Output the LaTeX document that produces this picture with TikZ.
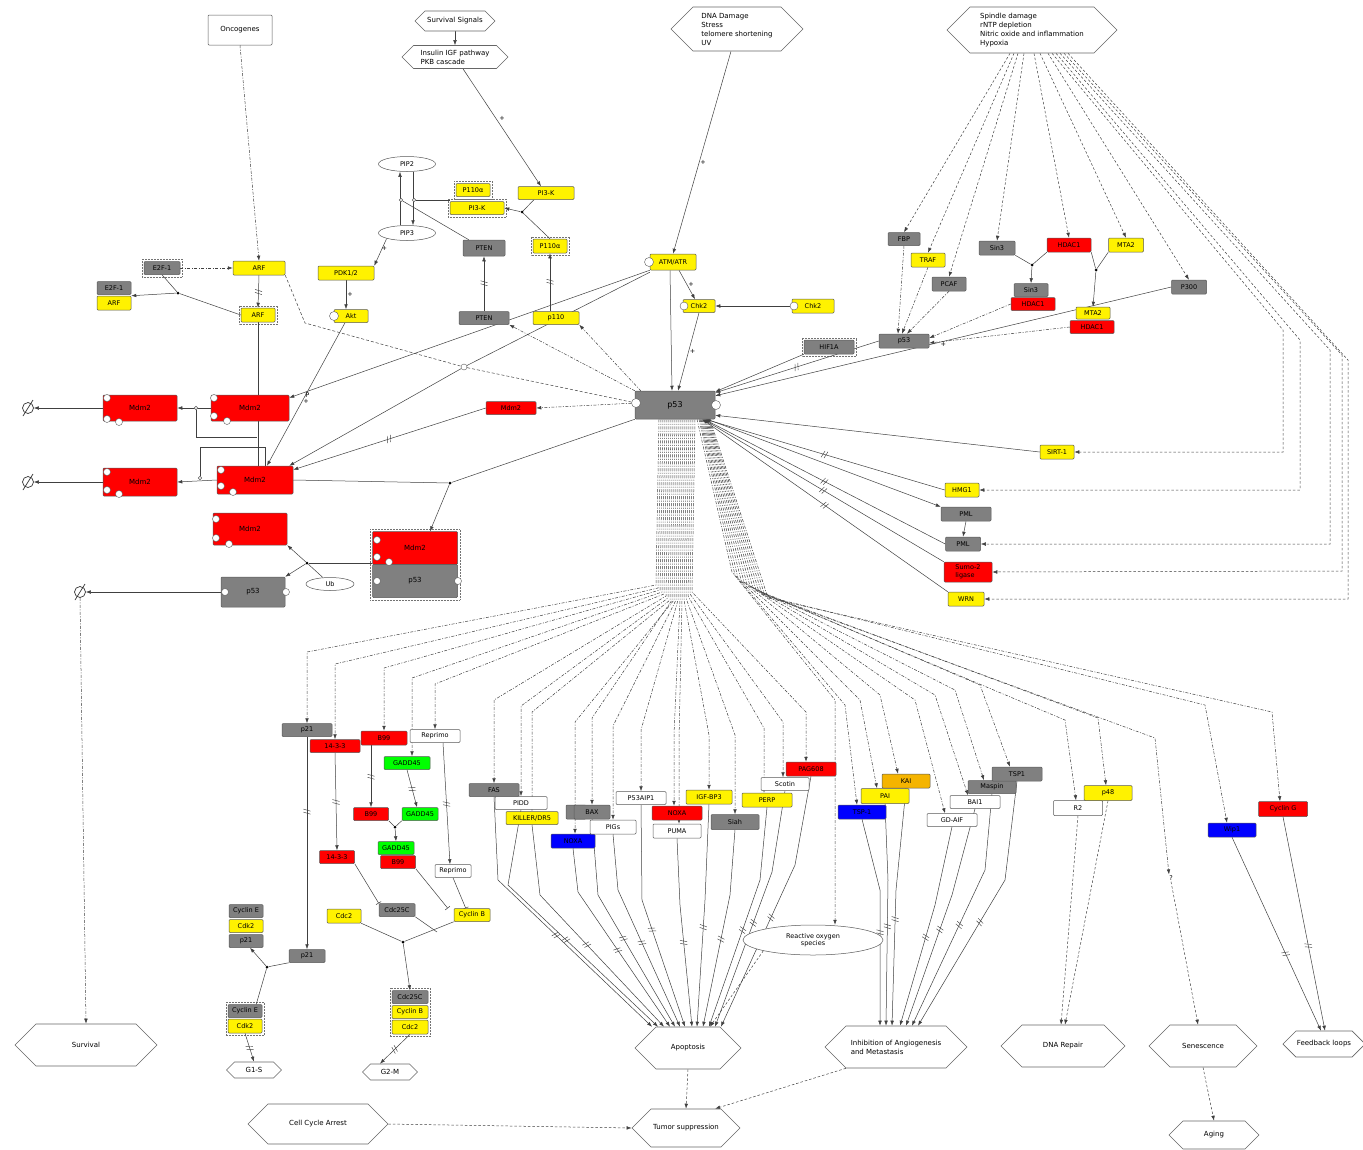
\documentclass[tikz,border=0pt]{standalone}
\usepackage{fontspec}
\setmainfont{DejaVu Sans}
\usetikzlibrary{arrows.meta,shapes.geometric,shapes.symbols,decorations.markings}
\newcommand\lbl{\fontsize{6.5}{7.5}\selectfont}
\newcommand\hlbl{\fontsize{7}{9}\selectfont}
\pgfdeclarelayer{edges}
\pgfsetlayers{edges,main}
\definecolor{gy}{HTML}{808080}
\definecolor{orng}{HTML}{F5B400}
\begin{document}
\begin{tikzpicture}[x=1pt,y=-1pt,
  >={Latex[length=5pt,width=3.6pt]},
  box/.style={draw=black!65,rounded corners=1pt,inner sep=0pt,font=\lbl,minimum height=14pt,line width=0.5pt,minimum width=#1},
  box/.default=36pt,
  nY/.style={box=#1,fill=yellow}, nY/.default=36pt,
  nG/.style={box=#1,fill=gy}, nG/.default=36pt,
  nR/.style={box=#1,fill=red}, nR/.default=36pt,
  nGr/.style={box=#1,fill=green}, nGr/.default=36pt,
  nB/.style={box=#1,fill=blue}, nB/.default=36pt,
  nW/.style={box=#1,fill=white}, nW/.default=36pt,
  nO/.style={box=#1,fill=orng}, nO/.default=36pt,
  hex/.style={signal,signal to=east and west,draw=black!60,fill=white,font=\hlbl,inner sep=1pt,line width=0.6pt},
  ov/.style={ellipse,draw=black!65,fill=white,inner sep=0pt,font=\lbl,line width=0.5pt},
  sv/.style={circle,draw=black!65,fill=white,inner sep=0pt,minimum size=#1,line width=0.4pt},
  sv/.default=7pt,
  dot/.style={circle,fill=black,inner sep=0pt,minimum size=3pt},
  emp/.style={circle,draw=black!80,line width=0.7pt,minimum size=11pt,inner sep=0pt},
  cx/.style={draw=black!55,densely dotted,line width=0.5pt},
  arr/.style={->,draw=black!75,line width=0.5pt},
  ln/.style={-,draw=black!75,line width=0.5pt},
  dsh/.style={arr,dash pattern=on 3pt off 1.5pt on 1pt off 1.5pt},
  dd/.style={arr,dash pattern=on 2.5pt off 2pt},
  brk/.style={postaction={decorate,decoration={markings,mark=at position #1 with {\draw[solid,-,black!75,line width=0.45pt] (-2pt,-3.5pt)--(0pt,3.5pt) (1pt,-3.5pt)--(3pt,3.5pt);}}}},
  brk/.default=0.5,
  pl/.style={font=\lbl,inner sep=1pt}
]
\useasboundingbox (0,0) rectangle (1363,1149);

% ---------- input signals ----------
\node[nW=64pt,minimum height=30pt,font=\hlbl] (onc) at (240,30) {Oncogenes};
\node[hex,minimum width=80pt,minimum height=20pt] (surv) at (455,21) {Survival Signals};
\node[hex,minimum width=106pt,minimum height=23pt,align=left] (ins) at (455,57) {Insulin IGF pathway\\PKB cascade};
\node[hex,minimum width=132pt,minimum height=44pt,align=left] (dna) at (737,29) {DNA Damage\\Stress\\telomere shortening\\UV};
\node[hex,minimum width=170pt,minimum height=46pt,align=left] (spin) at (1032,30) {Spindle damage\\rNTP depletion\\Nitric oxide and inflammation\\Hypoxia};

% ---------- PI3K / Akt branch ----------
\node[ov,minimum width=57pt,minimum height=15pt] (pip2) at (407,164) {PIP2};
\node[ov,minimum width=57pt,minimum height=15pt] (pip3) at (407,233) {PIP3};
\node[nY=34pt,minimum height=13pt] (p110a) at (473,190) {P110α};
\node[nY=54pt,minimum height=13pt] (pi3ka) at (477,208) {PI3-K};
\node[nY=56pt,minimum height=13pt] (pi3kr) at (546,193) {PI3-K};
\node[nY=34pt] (p110b) at (550,246) {P110α};
\node[nG=42pt,minimum height=16pt] (pten1) at (484,248) {PTEN};
\node[nG=50pt,minimum height=13pt] (pten2) at (484,318) {PTEN};
\node[nY=46pt,minimum height=13pt] (p110) at (556,318) {p110};
\node[nY=56pt] (pdk) at (346,273) {PDK1/2};
\node[nY=34pt,minimum height=13pt] (akt) at (351,316) {Akt};
\node[sv=9pt] (aktc) at (334,316) {};
\node[sv=3.5pt] (c1) at (401,200) {};
\node[sv=3.5pt] (c2) at (414,200) {};
\node[dot] (j2) at (522,212) {};

% ---------- ARF / E2F-1 ----------
\node[nY=52pt] (arf1) at (259,268) {ARF};
\node[nG=36pt,minimum height=13pt] (e2f1) at (162,268) {E2F-1};
\node[nG=34pt,minimum height=13pt] (e2f2) at (114,288) {E2F-1};
\node[nY=34pt] (arf3) at (114,303) {ARF};
\node[nY=34pt] (arf2) at (258,315) {ARF};
\node[dot] (j1) at (178,293) {};

% ---------- ATM / Chk2 ----------
\node[nY=46pt,minimum height=16pt] (atm) at (673,262) {ATM/ATR};
\node[sv=9pt] (atmc) at (649,262) {};
\node[nY=32pt,minimum height=13pt] (chk2a) at (699,306) {Chk2};
\node[sv=8pt] (chk2ac) at (684,306) {};
\node[nY=42pt] (chk2b) at (813,306) {Chk2};
\node[sv=8pt] (chk2bc) at (794,306) {};

% ---------- p53 core ----------
\node[nG=80pt,minimum height=28pt,font=\fontsize{8}{9}\selectfont] (p53) at (675,405) {p53};
\node[sv=9pt] (p53w) at (636,403) {};
\node[sv=9pt] (p53e) at (716,405) {};
\node[nR=50pt,minimum height=13pt] (mdm2s) at (511,408) {Mdm2};
\node[sv=6pt] (c5) at (464,367) {};

% ---------- Mdm2 forms ----------
\node[nR=74pt,minimum height=26pt,font=\fontsize{7}{8}\selectfont] (m1) at (140,408) {Mdm2};
\node[nR=78pt,minimum height=26pt,font=\fontsize{7}{8}\selectfont] (m2) at (250,408) {Mdm2};
\node[nR=74pt,minimum height=28pt,font=\fontsize{7}{8}\selectfont] (m3) at (140,482) {Mdm2};
\node[nR=76pt,minimum height=28pt,font=\fontsize{7}{8}\selectfont] (m4) at (255,480) {Mdm2};
\node[nR=74pt,minimum height=32pt,font=\fontsize{7}{8}\selectfont] (m5) at (250,529) {Mdm2};
\node[nR=85pt,minimum height=33pt,font=\fontsize{7}{8}\selectfont] (m6) at (415,548) {Mdm2};
\node[nG=85pt,minimum height=33pt,font=\fontsize{7}{8}\selectfont] (p53c) at (415,581) {p53};
\node[nG=64pt,minimum height=30pt,font=\fontsize{7}{8}\selectfont] (p53a) at (253,592) {p53};
\node[ov,minimum width=48pt,minimum height=13pt] (ub) at (330,584) {Ub};
\node[emp] (e1) at (28,408) {};
\node[emp] (e2) at (28,482) {};
\node[emp] (e3) at (80,592) {};
\foreach \e in {e1,e2,e3}
  \draw[line width=0.7pt,black!80] ([shift={(-5pt,-8pt)}]\e.center) -- ([shift={(5pt,8pt)}]\e.center);
% state variables on the Mdm2 / p53 glyphs
\foreach \px/\py in {107/398,107/419,119/422,214/398,214/416,227/421,107/472,107/490,119/494,221/470,221/486,233/492,216/519,216/538,229/544,377/540,377/557,389/562,377/581,458/581,225/592,286/592}
  \node[sv] at (\px,\py) {};

% ---------- upstream regulators on the right ----------
\node[nG=50pt,minimum height=14pt] (hif) at (829,347) {HIF1A};
\node[nG=50pt] (p53r) at (904,341) {p53};
\node[nG=32pt,minimum height=13pt] (fbp) at (904,239) {FBP};
\node[nY=34pt] (traf) at (928,260) {TRAF};
\node[nG=34pt] (pcaf) at (949,284) {PCAF};
\node[nG=36pt] (sin3a) at (997,248) {Sin3};
\node[nR=44pt] (hdac1a) at (1069,245) {HDAC1};
\node[nY=35pt] (mta2a) at (1126,245) {MTA2};
\node[nG=34pt,minimum height=13pt] (sin3b) at (1031,290) {Sin3};
\node[nR=44pt,minimum height=13pt] (hdac1b) at (1033,304) {HDAC1};
\node[nY=34pt,minimum height=12pt] (mta2b) at (1093,313) {MTA2};
\node[nR=44pt,minimum height=13pt] (hdac1c) at (1092,327) {HDAC1};
\node[nG=35pt] (p300) at (1189,287) {P300};
\node[dot] (j10) at (1032,265) {};
\node[dot] (j11) at (1096,270) {};
\node[nY=34pt] (sirt) at (1057,452) {SIRT-1};
\node[nY=34pt] (hmg) at (962,490) {HMG1};
\node[nG=50pt] (pml1) at (966,514) {PML};
\node[nG=35pt] (pml2) at (963,544) {PML};
\node[nR=48pt,minimum height=20pt,align=left] (sumo) at (968,572) {Sumo-2\\ligase};
\node[nY=36pt] (wrn) at (966,599) {WRN};

% ---------- cell-cycle targets ----------
\node[nG=50pt,minimum height=13pt] (p21a) at (307,730) {p21};
\node[nR=50pt,minimum height=13pt] (t1433a) at (335,746) {14-3-3};
\node[nR=46pt] (b99a) at (384,738) {B99};
\node[nW=50pt,minimum height=13pt] (rep1) at (435,736) {Reprimo};
\node[nGr=46pt,minimum height=13pt] (gadd1) at (407,763) {GADD45};
\node[nR=35pt,minimum height=13pt] (b99b) at (371,814) {B99};
\node[nGr=36pt,minimum height=13pt] (gadd2) at (420,814) {GADD45};
\node[nGr=36pt,minimum height=13pt] (gadd3) at (396,848) {GADD45};
\node[nR=35pt,minimum height=13pt] (b99c) at (398,862) {B99};
\node[nR=35pt,minimum height=13pt] (t1433b) at (337,857) {14-3-3};
\node[nW=36pt,minimum height=13pt] (rep2) at (453,871) {Reprimo};
\node[nG=36pt,minimum height=13pt] (cdc25a) at (397,910) {Cdc25C};
\node[nY=34pt] (cdc2a) at (344,916) {Cdc2};
\node[nY=36pt,minimum height=13pt] (cycb) at (472,915) {Cyclin B};
\node[nG=34pt,minimum height=13pt] (cyce1) at (246,911) {Cyclin E};
\node[nY=34pt,minimum height=13pt] (cdk2a) at (246,926) {Cdk2};
\node[nG=34pt,minimum height=13pt] (p21c) at (246,941) {p21};
\node[nG=36pt,minimum height=13pt] (p21b) at (307,956) {p21};
\node[nG=34pt,minimum height=13pt] (cyce2) at (245,1011) {Cyclin E};
\node[nY=34pt] (cdk2b) at (245,1026) {Cdk2};
\node[nG=36pt,minimum height=13pt] (cdc25b) at (410,997) {Cdc25C};
\node[nY=36pt,minimum height=13pt] (cycb2) at (410,1012) {Cyclin B};
\node[nY=36pt] (cdc2b) at (410,1027) {Cdc2};
\node[dot] (j7) at (395,827) {};
\node[dot] (j8) at (403,942) {};
\node[dot] (j9) at (267,967) {};
\node[dot] (j5) at (450,483) {};
\node[dot] (j6) at (307,563) {};
\node[sv=3.5pt] (j3) at (196,408) {};
\node[sv=3.5pt] (j4) at (200,478) {};

% ---------- apoptosis targets ----------
\node[nG=50pt,minimum height=13pt] (fas) at (494,790) {FAS};
\node[nW=52pt,minimum height=13pt] (pidd) at (521,803) {PIDD};
\node[nY=52pt,minimum height=13pt] (killer) at (532,818) {KILLER/DR5};
\node[nG=20pt] (bcl) at (576,812) {};
\node[nG=36pt] (bax) at (592,812) {BAX};
\node[nB=44pt] (noxab) at (573,841) {NOXA};
\node[nW=46pt] (pigs) at (613,827) {PIGs};
\node[nW=50pt,minimum height=13pt] (aip) at (641,798) {P53AIP1};
\node[nR=50pt] (noxa) at (677,813) {NOXA};
\node[nW=48pt] (puma) at (677,831) {PUMA};
\node[nY=46pt] (igf) at (709,797) {IGF-BP3};
\node[nG=48pt,minimum height=15pt] (siah) at (735,822) {Siah};
\node[nY=50pt] (perp) at (767,800) {PERP};
\node[nW=48pt,minimum height=13pt] (scot) at (785,784) {Scotin};
\node[nR=50pt] (pag) at (811,769) {PAG608};
\node[ov,minimum width=140pt,minimum height=30pt,align=center] (ros) at (813,940) {Reactive oxygen\\species};

% ---------- angiogenesis, repair, feedback targets ----------
\node[nB=48pt] (tspb) at (862,812) {TSP-1};
\node[nO=48pt] (kai) at (906,781) {KAI};
\node[nY=48pt,minimum height=15pt] (pai) at (885,796) {PAI};
\node[nW=50pt,minimum height=13pt] (gdaif) at (952,820) {GD-AIF};
\node[nW=50pt,minimum height=13pt] (bai1) at (975,802) {BAI1};
\node[nG=48pt,minimum height=13pt] (masp) at (992,787) {Maspin};
\node[nG=50pt] (tsp1) at (1017,774) {TSP1};
\node[nW=49pt,minimum height=15pt] (r2) at (1078,808) {R2};
\node[nY=48pt,minimum height=15pt] (p48) at (1108,793) {p48};
\node[nB=48pt] (wip) at (1232,830) {Wip1};
\node[nR=49pt,minimum height=15pt] (cycg) at (1283,809) {Cyclin G};
\node[pl] (qm) at (1171,878) {?};

% ---------- outcomes ----------
\node[hex,minimum width=55pt,minimum height=16pt] (g1s) at (254,1070) {G1-S};
\node[hex,minimum width=55pt,minimum height=16pt] (g2m) at (390,1072) {G2-M};
\node[hex,minimum width=142pt,minimum height=42pt] (survival) at (86,1045) {Survival};
\node[hex,minimum width=140pt,minimum height=40pt] (cca) at (318,1124) {Cell Cycle Arrest};
\node[hex,minimum width=106pt,minimum height=42pt] (apo) at (688,1048) {Apoptosis};
\node[hex,minimum width=108pt,minimum height=38pt] (tsup) at (686,1128) {Tumor suppression};
\node[hex,minimum width=142pt,minimum height=42pt,align=left] (inh) at (896,1047) {Inhibition of Angiogenesis\\and Metastasis};
\node[hex,minimum width=124pt,minimum height=42pt] (dnar) at (1063,1046) {DNA Repair};
\node[hex,minimum width=108pt,minimum height=42pt] (sen) at (1203,1046) {Senescence};
\node[hex,minimum width=76pt,minimum height=26pt] (fb) at (1324,1044) {Feedback loops};
\node[hex,minimum width=90pt,minimum height=28pt] (aging) at (1214,1135) {Aging};

\begin{pgfonlayer}{edges}
\fill[white] (0,0) rectangle (1363,1149);
% complex outlines
\draw[cx] ([shift={(-2pt,2pt)}]p110a.north west) rectangle ([shift={(2pt,-2pt)}]p110a.south east);
\draw[cx] ([shift={(-2pt,2pt)}]pi3ka.north west) rectangle ([shift={(2pt,-2pt)}]pi3ka.south east);
\draw[cx] ([shift={(-2pt,2pt)}]p110b.north west) rectangle ([shift={(2pt,-2pt)}]p110b.south east);
\draw[cx] ([shift={(-2pt,2pt)}]e2f1.north west) rectangle ([shift={(2pt,-2pt)}]e2f1.south east);
\draw[cx] ([shift={(-2pt,2pt)}]arf2.north west) rectangle ([shift={(2pt,-2pt)}]arf2.south east);
\draw[cx] ([shift={(-2pt,2pt)}]hif.north west) rectangle ([shift={(2pt,-2pt)}]hif.south east);
\draw[cx] ([shift={(-2pt,2pt)}]m6.north west) rectangle ([shift={(2pt,-2pt)}]p53c.south east);
\draw[cx] ([shift={(-2pt,2pt)}]cyce2.north west) rectangle ([shift={(2pt,-2pt)}]cdk2b.south east);
\draw[cx] ([shift={(-2pt,2pt)}]cdc25b.north west) rectangle ([shift={(2pt,-2pt)}]cdc2b.south east);

% ARF / E2F-1
\draw[dsh] (onc.south) -- (arf1.north);
\draw[dsh] (e2f1.east) -- (arf1.west);
\draw[arr,brk] (arf1.south) -- (arf2.north);
\draw[ln] (e2f1.south) -- (j1);
\draw[ln] (arf2.west) -- (j1);
\draw[arr] (j1) -- ([yshift=-1pt]e2f2.south east);
\draw[ln,dash pattern=on 3pt off 2pt] (arf1.south east) -- (305,323) -- (c5);
\draw[ln,dash pattern=on 3pt off 2pt] (c5) -- (p53w);
\draw[ln] (arf2.south) -- (arf2.south |- m4.north);

% PI3K / Akt
\draw[arr] (surv.south) -- (ins.north);
\draw[arr] ([xshift=8pt]ins.south) -- ([xshift=-5pt]pi3kr.north) node[pl,pos=0.45,above right] {+};
\draw[arr] ([xshift=-7pt]pip3.north) -- ([xshift=-7pt]pip2.south);
\draw[arr] ([xshift=6pt]pip2.south) -- ([xshift=6pt]pip3.north);
\draw[ln] (c2) -- (c2 -| pi3ka.west);
\draw[ln] ([xshift=6pt]pten1.north west) -- (c1);
\draw[ln] ([xshift=-12pt]pi3kr.south) -- (j2);
\draw[ln] (p110b.north) -- (j2);
\draw[arr] (j2) -- (pi3ka.east);
\draw[arr,brk] (pten2.north) -- (pten1.south);
\draw[arr,brk] ([xshift=-6pt]p110.north) -- (p110b.south);
\draw[arr] (pip3.south west) -- (pdk.north east) node[pl,pos=0.5,above right] {+};
\draw[arr] (pdk.south) -- (pdk.south |- akt.north) node[pl,pos=0.5,right] {+};
\draw[arr] ([xshift=-6pt]akt.south) -- ([xshift=12pt]m4.north) node[pl,pos=0.55,right] {+};
\draw[dsh] (p53.north west) -- (pten2.south east);
\draw[dsh] ([xshift=6pt]p53.north west) -- (p110.south east);

% ATM / Chk2
\draw[arr] ([xshift=-6pt]dna.south) -- (atm.north) node[pl,pos=0.55,right] {+};
\draw[arr] ([xshift=-3pt]atm.south) -- ([xshift=-3pt]p53.north);
\draw[arr] (chk2a.south) -- ([xshift=3pt]p53.north) node[pl,pos=0.5,right] {+};
\draw[arr] ([xshift=6pt]atm.south) -- ([xshift=-4pt]chk2a.north) node[pl,pos=0.5,right] {+};
\draw[arr] (chk2bc.west) -- (chk2a.east);
\draw[arr] (atm.south west) -- ([yshift=-3pt]m2.north east) node[pl,pos=0.95,below] {P};
\draw[ln] ([yshift=-2pt]atm.south west) -- (c5);
\draw[arr] (c5) -- ([xshift=-4pt]m4.north east);

% Mdm2 turnover
\draw[dsh] (p53w) -- (mdm2s.east);
\draw[arr,brk] (mdm2s.west) -- ([yshift=-4pt]m4.north east);
\draw[arr] (m2.west) -- (m1.east);
\draw[ln] (j3) -- ++(0,29) -- ++(61,0);
\draw[arr] (m1.west) -- (e1.east);
\draw[arr] (m4.west) -- (m3.east);
\draw[ln] (j4) -- ++(0,-31) -- ++(65,0) -- ++(0,19);
\draw[arr] (m3.west) -- (e2.east);
\draw[ln] (m4.east) -- (j5);
\draw[ln] (j5) -- (p53.south west);
\draw[arr] (j5) -- ([xshift=15pt]m6.north);
\draw[ln] ([yshift=-15pt]m6.west) -- (j6);
\draw[arr] (j6) -- (m5.south east);
\draw[arr] (j6) -- (p53a.north east);
\draw[ln] (ub) -- (j6);
\draw[arr] (p53a.west) -- (e3.east);
\draw[dsh] (e3.south) -- (survival.north);

% right-hand regulators
\draw[dd] ([xshift=-22pt]spin.south) -- (fbp.north);
\draw[dd] ([xshift=-18pt]spin.south) -- (traf.north);
\draw[dd] ([xshift=-14pt]spin.south) -- (pcaf.north);
\draw[dd] ([xshift=-8pt]spin.south) -- (sin3a.north);
\draw[dd] ([xshift=2pt]spin.south) -- (hdac1a.north);
\draw[dd] ([xshift=8pt]spin.south) -- (mta2a.north);
\draw[dd] ([xshift=16pt]spin.south) -- (p300.north);
\draw[dd] ([xshift=20pt]spin.south) -- (1283,330) -- (1283,452) -- (sirt.east);
\draw[dd] ([xshift=24pt]spin.south) -- (1300,340) -- (1300,490) -- (hmg.east);
\draw[dd] ([xshift=28pt]spin.south) -- (1330,350) -- (1330,544) -- (pml2.east);
\draw[dd] ([xshift=32pt]spin.south) -- (1342,355) -- (1342,571) -- (sumo.east);
\draw[dd] ([xshift=36pt]spin.south) -- (1348,360) -- (1348,599) -- (wrn.east);
\draw[ln] (sin3a.south east) -- (j10);
\draw[ln] (hdac1a.south west) -- (j10);
\draw[arr] (j10) -- (sin3b.north);
\draw[ln] (hdac1a.south east) -- (j11);
\draw[ln] (mta2a.south west) -- (j11);
\draw[arr] (j11) -- (mta2b.north);
\draw[dsh] (fbp.south) -- ([xshift=-6pt]p53r.north);
\draw[dsh] (traf.south) -- ([xshift=-2pt]p53r.north);
\draw[dsh] (pcaf.south) -- ([xshift=3pt]p53r.north);
\draw[dsh] (hdac1b.west) -- ([yshift=3pt]p53r.east);
\draw[dsh] (hdac1c.west) -- ([yshift=-2pt]p53r.east);
\draw[arr,brk] (p53r.west) -- ([yshift=-2pt]p53.north east);
\draw[arr] (hif.south west) -- ([yshift=-1pt]p53.north east);
\draw[arr] (p300.west) -- ([yshift=-5pt]p53.north east) node[pl,pos=0.5,below] {+};
\draw[arr] (sirt.west) -- ([yshift=4pt]p53.south east);
\draw[arr,brk] (hmg.west) -- ([xshift=-10pt]p53.south east);
\draw[arr] ([xshift=-8pt]p53.south east) -- (pml1.north west);
\draw[arr] (pml1.south) -- (pml2.north);
\draw[arr,brk] (pml2.west) -- ([xshift=-11pt]p53.south east);
\draw[arr,brk] (sumo.north west) -- ([xshift=-12pt]p53.south east);
\draw[arr,brk] (wrn.north west) -- ([xshift=-13pt]p53.south east);

% transcriptional targets of p53
\foreach \t/\s/\mx/\my/\bx/\by/\ax in {
  p21a/-16/656/585/307/652/0, t1433a/-14/658/588/335/664/0, b99a/-12/660/590/384/668/0,
  gadd1/-10/662/592/412/678/5, rep1/-8/664/594/435/684/0, fas/-6/666/596/494/700/0,
  pidd/-4/668/598/521/706/0, killer/-2/670/600/532/712/0, bax/0/672/600/592/718/0,
  noxab/2/674/600/575/722/2, pigs/4/676/600/613/726/0, aip/6/678/600/641/730/0,
  noxa/8/680/600/674/734/-3, puma/10/682/600/679/740/2, igf/12/684/600/709/735/0,
  siah/14/686/598/735/735/0, perp/16/688/596/764/728/-3, scot/18/690/594/783/722/-2,
  pag/20/692/592/806/712/-5,
  tspb/24/735/575/845/705/-5, pai/25/738/578/860/700/-8, kai/26/741/580/880/695/-8,
  gdaif/27/744/582/915/700/-7, bai1/28/747/584/935/695/-7, masp/29/750/586/955/690/-8,
  tsp1/30/753/588/980/685/-7, r2/31/756/590/1065/720/-2, p48/32/759/592/1098/718/-2,
  qm/33/762/594/1155/738/-2, wip/34/765/596/1205/705/-5, cycg/35/768/598/1272/712/-3}
  \draw[dsh] ([xshift=\s pt]p53.south) -- (\mx,\my) -- (\bx,\by) -- ([xshift=\ax pt]\t.north);
\draw[dsh] ([xshift=22pt]p53.south) -- (732,572) -- (835,700) -- ([xshift=22pt]ros.north);

% cell-cycle arrest module
\draw[arr,brk=0.35] (p21a.south) -- (p21b.north);
\draw[arr,brk] (t1433a.south) -- (t1433b.north);
\draw[arr,brk] ([xshift=-13pt]b99a.south) -- (b99b.north);
\draw[arr,brk] (gadd1.south) -- ([xshift=-3pt]gadd2.north);
\draw[arr,brk] ([xshift=8pt]rep1.south) -- ([xshift=-3pt]rep2.north);
\draw[ln] (b99b.south east) -- (j7);
\draw[ln] (gadd2.south west) -- (j7);
\draw[arr] (j7) -- (gadd3.north);
\draw[-{Bar[width=6pt]},draw=black!75,line width=0.5pt] (t1433b.south east) -- (cdc25a.north west);
\draw[-{Bar[width=6pt]},draw=black!75,line width=0.5pt] (b99c.south east) -- ([xshift=-6pt]cycb.north west);
\draw[-{Bar[width=6pt]},draw=black!75,line width=0.5pt] (rep2.south) -- ([xshift=12pt]cycb.north west);
\draw[ln] (cdc2a.south east) -- (j8);
\draw[ln] (cdc25a.south east) -- (437,932);
\draw[ln] (cycb.south west) -- (j8);
\draw[arr] (j8) -- (cdc25b.north);
\draw[ln] (p21b.south west) -- (j9);
\draw[arr] (j9) -- ([xshift=4pt]p21c.south);
\draw[ln] ([xshift=-6pt]cyce2.north east) -- (j9);
\draw[arr,brk] (cdk2b.south) -- (g1s.north);
\draw[arr,brk] (cdc2b.south) -- ([xshift=-10pt]g2m.north);

% apoptosis effectors
\foreach \t/\bx/\by/\ex in {fas/498/880/-36, pidd/508/885/-30, killer/540/895/-24,
  noxab/578/892/-18, bax/598/895/-13, pigs/618/890/-8, aip/642/900/-3, puma/680/905/4,
  igf/705/900/9, siah/730/895/15, perp/760/880/21, scot/772/872/27, pag/795/865/33}
  \draw[arr,brk=0.55] (\t.south) -- (\bx,\by) -- ([xshift=\ex pt]apo.north);

% angiogenesis / metastasis effectors
\foreach \t/\bx/\by/\ex in {tspb/880/890/-16, pai/888/880/-10, kai/896/890/-4,
  gdaif/935/905/4, bai1/952/895/10, masp/985/870/16, tsp1/1005/880/22}
  \draw[arr,brk=0.55] (\t.south) -- (\bx,\by) -- ([xshift=\ex pt]inh.north);

% repair, senescence and feedback
\draw[dd] (r2.south) -- ([xshift=-2pt]dnar.north);
\draw[dd] (p48.south) -- ([xshift=2pt]dnar.north);
\draw[dd] (qm.south) -- ([xshift=-5pt]sen.north);
\draw[arr,brk=0.6] (wip.south) -- ([xshift=-3pt]fb.north);
\draw[arr,brk=0.6] (cycg.south) -- ([xshift=1pt]fb.north);

% outcomes
\draw[dd] (apo.south) -- (tsup.north);
\draw[dd] (inh.south west) -- ([xshift=-6pt]tsup.north east);
\draw[dd] (cca.east) -- (tsup.west);
\draw[dd] (ros.south west) -- ([xshift=22pt]apo.north);
\draw[dd] (sen.south) -- (aging.north);
\end{pgfonlayer}
\end{tikzpicture}
\end{document}
